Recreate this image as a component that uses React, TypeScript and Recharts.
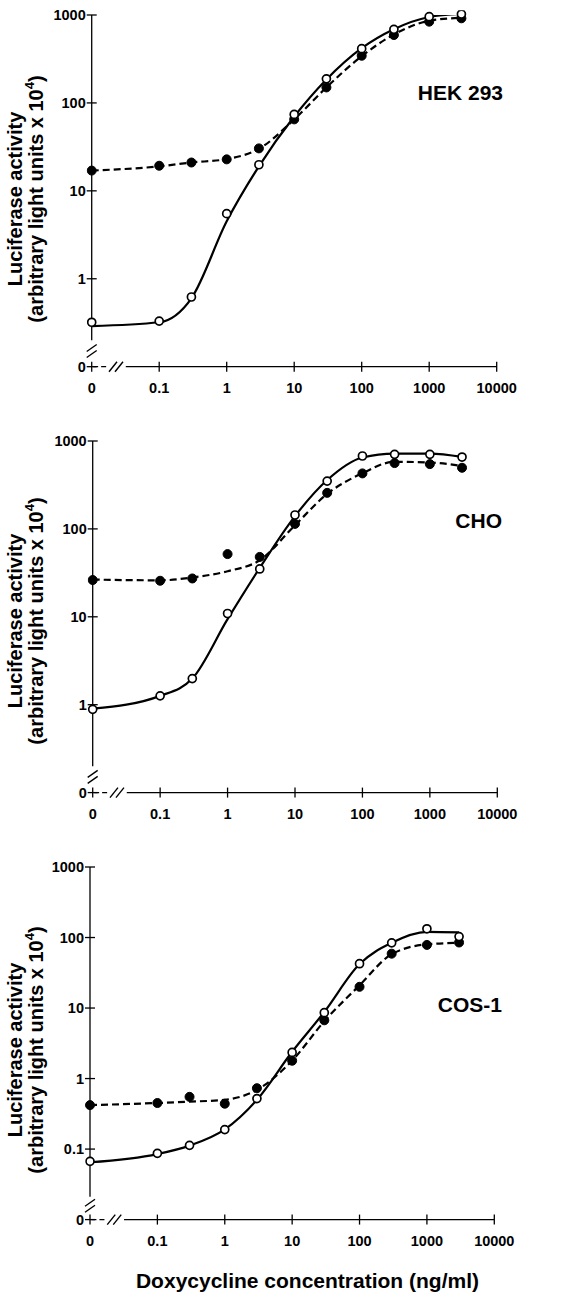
import React from 'react'
import { ComposedChart, Line, XAxis, YAxis, ReferenceLine, ReferenceDot } from 'recharts'

// doxycycline doses (ng/ml); dose 0 is drawn at the axis position of 0.01
const doses = [0, 0.1, 0.3, 1, 3, 10, 30, 100, 300, 1000, 3000]
const ZERO_X = 0.01
const xTicks = [0.01, 0.1, 1, 10, 100, 1000, 10000]

// HEK 293
const hekOpen = [0.32, 0.33, 0.62, 5.5, 19.8, 74, 188, 414, 687, 956, 1025]
const hekFilled = [17, 19.3, 21, 22.8, 30.4, 65, 150, 344, 592, 840, 917]
const hekOpenFit = [0.29, 0.32, 0.6, 4.5, 19, 70, 185, 420, 690, 950, 1030]
const hekFilledFit = [17, 19, 21, 23, 30, 65, 150, 340, 600, 860, 930]

// CHO
const choOpen = [0.885, 1.26, 1.98, 10.9, 35, 144, 350, 675, 705, 705, 657]
const choFilled = [26.2, 25.7, 27.3, 51.7, 48, 114, 257, 428, 561, 546, 496]
const choOpenFit = [0.9, 1.26, 1.98, 9.4, 36, 140, 360, 650, 720, 720, 660]
const choFilledFit = [26.5, 26, 28, 33, 44, 110, 250, 430, 580, 570, 520]

// COS-1
const cosOpen = [0.067, 0.087, 0.113, 0.189, 0.52, 2.35, 8.6, 42.5, 84, 133, 103]
const cosFilled = [0.42, 0.45, 0.55, 0.44, 0.73, 1.79, 6.7, 20, 59, 78.5, 85]
const cosOpenFit = [0.065, 0.085, 0.112, 0.19, 0.5, 2.4, 8.8, 42, 84, 120, 118]
const cosFilledFit = [0.42, 0.45, 0.47, 0.5, 0.69, 1.8, 6.5, 21, 58, 80, 84]

const FONT = "'Liberation Sans', Arial, Helvetica, sans-serif"
const TICK_SIZE = 5
const TICK_MARGIN = 2

const fmt = (v: number, bottom: number) => (v <= bottom * 1.01 ? '0' : String(v))

const buildRows = (open: number[], filled: number[], openFit: number[], filledFit: number[]) =>
  doses.map((d, i) => ({
    x: d === 0 ? ZERO_X : d,
    open: open[i],
    filled: filled[i],
    openFit: openFit[i],
    filledFit: filledFit[i],
  }))

const XTick = ({ x, y, payload }: any) => {
  const axisY = y - TICK_SIZE - TICK_MARGIN
  return (
    <g>
      <line x1={x} x2={x} y1={axisY - 5} y2={axisY + 5} stroke="#000" strokeWidth={1.3} />
      <text x={x} y={axisY + 26} textAnchor="middle" fontFamily={FONT} fontWeight="bold" fontSize={14.5} fill="#000">
        {fmt(payload.value, ZERO_X)}
      </text>
    </g>
  )
}

const makeYTick = (bottom: number) => ({ x, y, payload }: any) => {
  const axisX = x + TICK_SIZE + TICK_MARGIN
  return (
    <g>
      <line x1={axisX - 5} x2={axisX + 5} y1={y} y2={y} stroke="#000" strokeWidth={1.3} />
      <text x={axisX - 6} y={y + 5} textAnchor="end" fontFamily={FONT} fontWeight="bold" fontSize={14.5} fill="#000">
        {fmt(payload.value, bottom)}
      </text>
    </g>
  )
}

const YBreak = ({ cx, cy }: any) => (
  <g stroke="#000" strokeWidth={1.4}>
    <line x1={cx - 5} y1={cy + 1} x2={cx + 5} y2={cy - 6} />
    <line x1={cx - 5} y1={cy + 7} x2={cx + 5} y2={cy} />
  </g>
)

const XBreak = ({ cx, cy }: any) => (
  <g stroke="#000" strokeWidth={1.4}>
    <line x1={cx - 8} y1={cy + 5} x2={cx} y2={cy - 5} />
    <line x1={cx - 2} y1={cy + 5} x2={cx + 6} y2={cy - 5} />
  </g>
)

type PanelProps = {
  plotTop: number
  plotBottom: number
  plotLeft: number
  plotRight: number
  yTicks: number[]
  yLineEnd: number
  yBreakAt: number
  open: number[]
  filled: number[]
  openFit: number[]
  filledFit: number[]
}

function Panel(p: PanelProps) {
  const top = p.plotTop - 10
  const height = p.plotBottom - top + 50
  const bottom = p.yTicks[0]
  const rows = buildRows(p.open, p.filled, p.openFit, p.filledFit)
  const YTick = makeYTick(bottom)
  return (
    <div style={{ position: 'absolute', left: 0, top }}>
      <ComposedChart
        width={562}
        height={height}
        data={rows}
        margin={{ top: 10, right: 562 - p.plotRight, left: 0, bottom: 10 }}
      >
        <XAxis
          dataKey="x"
          type="number"
          scale="log"
          domain={[0.01, 10000]}
          ticks={xTicks}
          allowDataOverflow
          axisLine={false}
          tickLine={false}
          tickSize={TICK_SIZE}
          tickMargin={TICK_MARGIN}
          height={40}
          interval={0}
          tick={<XTick />}
        />
        <YAxis
          type="number"
          scale="log"
          domain={[bottom, 1000]}
          ticks={p.yTicks}
          allowDataOverflow
          axisLine={false}
          tickLine={false}
          tickSize={TICK_SIZE}
          tickMargin={TICK_MARGIN}
          width={p.plotLeft}
          interval={0}
          tick={<YTick />}
        />
        <ReferenceLine segment={[{ x: 0.01, y: p.yLineEnd }, { x: 0.01, y: 1000 }]} stroke="#000" strokeWidth={1.3} />
        <ReferenceLine segment={[{ x: 0.0105, y: bottom }, { x: 0.017, y: bottom }]} stroke="#000" strokeWidth={1.3} strokeDasharray="5 3" />
        <ReferenceLine segment={[{ x: 0.032, y: bottom }, { x: 10000, y: bottom }]} stroke="#000" strokeWidth={1.3} />
        <ReferenceDot x={0.01} y={p.yBreakAt} r={1} shape={(s: any) => <YBreak cx={s.cx} cy={s.cy} />} />
        <ReferenceDot x={0.0237} y={bottom} r={1} shape={(s: any) => <XBreak cx={s.cx} cy={s.cy} />} />
        <Line dataKey="openFit" type="monotone" stroke="#000" strokeWidth={2.2} dot={false} isAnimationActive={false} />
        <Line dataKey="filledFit" type="monotone" stroke="#000" strokeWidth={2.2} strokeDasharray="7 4" dot={false} isAnimationActive={false} />
        <Line
          dataKey="filled"
          stroke="none"
          dot={{ r: 4.5, fill: '#000', stroke: '#000', strokeWidth: 1, clipDot: false }}
          activeDot={false}
          isAnimationActive={false}
        />
        <Line
          dataKey="open"
          stroke="none"
          dot={{ r: 4, fill: '#fff', stroke: '#000', strokeWidth: 1.7, clipDot: false }}
          activeDot={false}
          isAnimationActive={false}
        />
      </ComposedChart>
    </div>
  )
}

const YTitle = ({ cy }: { cy: number }) => (
  <g fontFamily={FONT} fontWeight="bold" fill="#000">
    <text transform={`translate(15, ${cy}) rotate(-90)`} textAnchor="middle" dominantBaseline="central" fontSize={20}>
      Luciferase activity
    </text>
    <text transform={`translate(36, ${cy}) rotate(-90)`} textAnchor="middle" dominantBaseline="central" fontSize={20}>
      (arbitrary light units x 10<tspan fontSize={13} dy={-7}>4</tspan><tspan dy={7}>)</tspan>
    </text>
  </g>
)

export default function App() {
  return (
    <div style={{ position: 'absolute', left: 0, top: 0, width: 562, height: 1298, background: '#fff' }}>
      <Panel
        plotTop={15} plotBottom={366.7} plotLeft={91.7} plotRight={496.7}
        yTicks={[0.1, 1, 10, 100, 1000]} yLineEnd={0.2} yBreakAt={0.153}
        open={hekOpen} filled={hekFilled} openFit={hekOpenFit} filledFit={hekFilledFit}
      />
      <Panel
        plotTop={440.7} plotBottom={792.3} plotLeft={92.7} plotRight={497.3}
        yTicks={[0.1, 1, 10, 100, 1000]} yLineEnd={0.2} yBreakAt={0.153}
        open={choOpen} filled={choFilled} openFit={choOpenFit} filledFit={choFilledFit}
      />
      <Panel
        plotTop={866.7} plotBottom={1219.3} plotLeft={90} plotRight={494.3}
        yTicks={[0.01, 0.1, 1, 10, 100, 1000]} yLineEnd={0.021} yBreakAt={0.016}
        open={cosOpen} filled={cosFilled} openFit={cosOpenFit} filledFit={cosFilledFit}
      />
      <svg width={562} height={1298} style={{ position: 'absolute', left: 0, top: 0, pointerEvents: 'none' }}>
        <YTitle cy={199} />
        <YTitle cy={621} />
        <YTitle cy={1050} />
        <g fontFamily={FONT} fontWeight="bold" fill="#000" textAnchor="end" fontSize={21}>
          <text x={503} y={100}>HEK 293</text>
          <text x={502} y={528}>CHO</text>
          <text x={502} y={1011.5}>COS-1</text>
        </g>
        <text x={307.5} y={1288} textAnchor="middle" fontFamily={FONT} fontWeight="bold" fontSize={21} fill="#000">
          Doxycycline concentration (ng/ml)
        </text>
      </svg>
    </div>
  )
}
